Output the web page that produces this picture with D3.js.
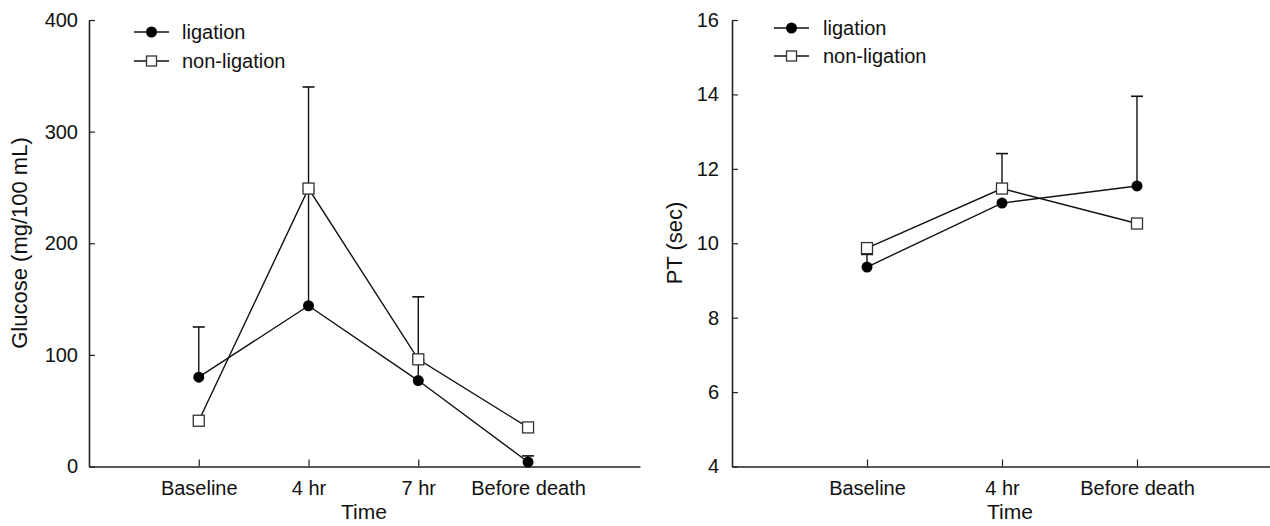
<!DOCTYPE html>
<html>
<head>
<meta charset="utf-8">
<script src="https://cdn.jsdelivr.net/npm/d3@7"></script>
<style>
  body { margin: 0; background: #fff; }
  svg { display: block; font-family: "Liberation Sans", Arial, sans-serif; }
</style>
</head>
<body>
<div id="chart"></div>
<script>
// Glucose panel
const glucoseTimes = ["Baseline", "4 hr", "7 hr", "Before death"];
const glucoseLigation = [80, 144, 77, 4];
const glucoseLigationUpper = [125, 247, 95, 9.5];
const glucoseNonLigation = [41, 249, 96, 35];
const glucoseNonLigationUpper = [null, 340, 152, null];
const glucoseTicks = [0, 100, 200, 300, 400];

// PT panel
const ptTimes = ["Baseline", "4 hr", "Before death"];
const ptLigation = [9.36, 11.08, 11.54];
const ptLigationUpper = [9.70, null, 13.95];
const ptNonLigation = [9.87, 11.47, 10.53];
const ptNonLigationUpper = [null, 12.41, null];
const ptTicks = [4, 6, 8, 10, 12, 14, 16];

const seriesNames = ["ligation", "non-ligation"];

const svg = d3.select("#chart").append("svg")
    .attr("width", 1270)
    .attr("height", 526);

function drawPanel(cfg) {
    const g = svg.append("g");

    const x = d3.scaleLinear()
        .domain([-1, cfg.xEnd])
        .range([cfg.left, cfg.right]);
    const y = d3.scaleLinear()
        .domain(cfg.yDomain)
        .range([466.5, 20]);

    // axes
    const yAxis = g.append("g")
        .attr("transform", `translate(${cfg.left},0)`)
        .call(d3.axisLeft(y).tickValues(cfg.yTicks).tickSizeInner(-6).tickSizeOuter(0).tickPadding(cfg.yPad));
    const xAxis = g.append("g")
        .attr("transform", "translate(0,466.5)")
        .call(d3.axisBottom(x).tickValues(d3.range(cfg.times.length))
            .tickFormat(i => cfg.times[i]).tickSizeInner(-7).tickSizeOuter(0).tickPadding(14));
    [yAxis, xAxis].forEach(a => {
        a.select(".domain").attr("stroke", "#222").attr("stroke-width", 1.6);
        a.selectAll(".tick line").attr("stroke", "#222").attr("stroke-width", 1.2);
        a.selectAll("text").attr("font-size", "20px").attr("fill", "#111")
            .attr("font-family", "'Liberation Sans', Arial, sans-serif");
    });

    // axis titles
    g.append("text")
        .attr("x", cfg.timeX)
        .attr("y", 519)
        .attr("text-anchor", "middle")
        .attr("font-size", "21px")
        .attr("fill", "#111")
        .text("Time");
    g.append("text")
        .attr("transform", `translate(${cfg.titleX},243) rotate(-90)`)
        .attr("text-anchor", "middle")
        .attr("dy", "0.36em")
        .attr("font-size", "22px")
        .attr("fill", "#111")
        .text(cfg.yTitle);

    const series = [
        { vals: cfg.lig, upper: cfg.ligUpper, kind: "circle" },
        { vals: cfg.non, upper: cfg.nonUpper, kind: "square" }
    ];

    // error bars (upper only)
    series.forEach(s => {
        s.upper.forEach((u, i) => {
            if (u == null) return;
            g.append("line")
                .attr("x1", x(i)).attr("x2", x(i))
                .attr("y1", y(s.vals[i])).attr("y2", y(u))
                .attr("stroke", "#111").attr("stroke-width", 1.4);
            g.append("line")
                .attr("x1", x(i) - 6).attr("x2", x(i) + 6)
                .attr("y1", y(u)).attr("y2", y(u))
                .attr("stroke", "#111").attr("stroke-width", 1.6);
        });
    });

    // lines
    const line = d3.line().x((d, i) => x(i)).y(d => y(d));
    series.forEach(s => {
        g.append("path")
            .datum(s.vals)
            .attr("d", line)
            .attr("fill", "none")
            .attr("stroke", "#111")
            .attr("stroke-width", 1.4);
    });

    // markers
    g.selectAll(".lig").data(cfg.lig).enter().append("circle")
        .attr("cx", (d, i) => x(i)).attr("cy", d => y(d))
        .attr("r", 5.5).attr("fill", "#000");
    g.selectAll(".non").data(cfg.non).enter().append("rect")
        .attr("x", (d, i) => x(i) - 5.5).attr("y", d => y(d) - 5.5)
        .attr("width", 11).attr("height", 11)
        .attr("fill", "#fff").attr("stroke", "#333").attr("stroke-width", 1.3);

    // legend
    seriesNames.forEach((name, k) => {
        const ly = cfg.legY[k];
        g.append("line")
            .attr("x1", cfg.legX1).attr("x2", cfg.legX2)
            .attr("y1", ly).attr("y2", ly)
            .attr("stroke", "#111").attr("stroke-width", 1.4);
        const mx = (cfg.legX1 + cfg.legX2) / 2;
        if (k === 0) {
            g.append("circle").attr("cx", mx).attr("cy", ly).attr("r", 5.5).attr("fill", "#000");
        } else {
            g.append("rect").attr("x", mx - 5).attr("y", ly - 5).attr("width", 10).attr("height", 10)
                .attr("fill", "#fff").attr("stroke", "#333").attr("stroke-width", 1.3);
        }
        g.append("text")
            .attr("x", cfg.legText).attr("y", ly + 7)
            .attr("font-size", "20px")
            .attr("fill", "#111")
            .text(name);
    });
}

drawPanel({
    times: glucoseTimes, lig: glucoseLigation, ligUpper: glucoseLigationUpper,
    non: glucoseNonLigation, nonUpper: glucoseNonLigationUpper,
    yDomain: [0, 400], yTicks: glucoseTicks, yTitle: "Glucose (mg/100 mL)",
    left: 89, right: 640, xEnd: 4.02, yPad: 11,
    titleX: 19, timeX: 364,
    legY: [32, 61], legX1: 134, legX2: 169, legText: 182
});

drawPanel({
    times: ptTimes, lig: ptLigation, ligUpper: ptLigationUpper,
    non: ptNonLigation, nonUpper: ptNonLigationUpper,
    yDomain: [4, 16], yTicks: ptTicks, yTitle: "PT (sec)",
    left: 732, right: 1272, xEnd: 3, yPad: 13,
    titleX: 674, timeX: 1010,
    legY: [28, 56], legX1: 774, legX2: 809, legText: 823
});
</script>
</body>
</html>
